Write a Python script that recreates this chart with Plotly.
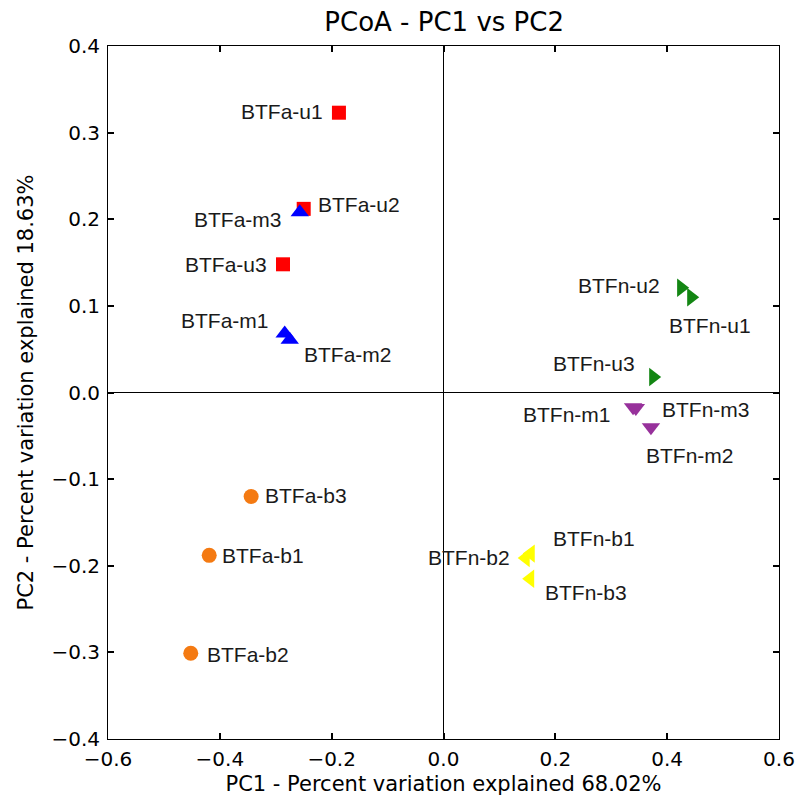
import plotly.graph_objects as go

# ---- data ----
groups = ["BTFa-u", "BTFa-m", "BTFa-b", "BTFn-u", "BTFn-m", "BTFn-b"]
names = {
    "BTFa-u": ["BTFa-u1", "BTFa-u2", "BTFa-u3"],
    "BTFa-m": ["BTFa-m1", "BTFa-m2", "BTFa-m3"],
    "BTFa-b": ["BTFa-b1", "BTFa-b2", "BTFa-b3"],
    "BTFn-u": ["BTFn-u1", "BTFn-u2", "BTFn-u3"],
    "BTFn-m": ["BTFn-m1", "BTFn-m2", "BTFn-m3"],
    "BTFn-b": ["BTFn-b1", "BTFn-b2", "BTFn-b3"],
}
pc1 = {
    "BTFa-u": [-0.187, -0.250, -0.287],
    "BTFa-m": [-0.284, -0.275, -0.257],
    "BTFa-b": [-0.419, -0.452, -0.344],
    "BTFn-u": [0.443, 0.425, 0.375],
    "BTFn-m": [0.339, 0.371, 0.344],
    "BTFn-b": [0.156, 0.147, 0.155],
}
pc2 = {
    "BTFa-u": [0.323, 0.212, 0.148],
    "BTFa-m": [0.068, 0.061, 0.208],
    "BTFa-b": [-0.188, -0.301, -0.120],
    "BTFn-u": [0.110, 0.121, 0.018],
    "BTFn-m": [-0.017, -0.040, -0.018],
    "BTFn-b": [-0.186, -0.191, -0.215],
}

# ---- styles ----
style = {
    "BTFa-u": ("square", "#ff0000", 14),
    "BTFa-m": ("triangle-up", "#0000ff", 16),
    "BTFa-b": ("circle", "#f47a12", 15),
    "BTFn-u": ("triangle-right", "#138613", 16),
    "BTFn-m": ("triangle-down", "#97319b", 16),
    "BTFn-b": ("triangle-left", "#ffff00", 16),
}
# label offsets in pixels: (xanchor, xshift, yshift)
label_pos = {
    "BTFa-u1": ("right", -14, 1), "BTFa-u2": ("left", 12, 4), "BTFa-u3": ("right", -14, 0),
    "BTFa-m1": ("right", -14, 13), "BTFa-m2": ("left", 12, -15), "BTFa-m3": ("right", -16, -7),
    "BTFa-b1": ("left", 11, 0), "BTFa-b2": ("left", 14, -1), "BTFa-b3": ("left", 12, 1),
    "BTFn-u1": ("left", -24, -28), "BTFn-u2": ("right", -19, 2), "BTFn-u3": ("right", -16, 13),
    "BTFn-m1": ("right", -20, -7), "BTFn-m2": ("left", -7, -28), "BTFn-m3": ("left", 24, -1),
    "BTFn-b1": ("left", 20, 15), "BTFn-b2": ("right", -14, 0), "BTFn-b3": ("left", 13, -14),
}

fig = go.Figure()
annotations = []
for g in groups:
    sym, col, sz = style[g]
    fig.add_trace(go.Scatter(
        x=pc1[g], y=pc2[g], mode="markers", name=g,
        marker=dict(symbol=sym, color=col, size=sz, line=dict(width=0)),
        showlegend=False,
    ))
    for n, xv, yv in zip(names[g], pc1[g], pc2[g]):
        xa, xs, ys = label_pos[n]
        annotations.append(dict(
            x=xv, y=yv, text=n, showarrow=False, xanchor=xa, yanchor="middle",
            xshift=xs, yshift=ys,
            font=dict(family="Liberation Sans, Arial", size=21, color="#1a1a1a"),
        ))

axis_common = dict(
    showgrid=False, zeroline=True, zerolinecolor="black", zerolinewidth=1,
    showline=True, linecolor="black", linewidth=1, mirror="ticks",
    ticks="inside", ticklen=6, tickwidth=2, tickcolor="black", automargin=False,
    tickfont=dict(family="DejaVu Sans", size=20, color="black"),
    title_font=dict(family="DejaVu Sans", size=21, color="black"),
)

fig.update_layout(
    width=796, height=799,
    margin=dict(l=108, r=17, t=46, b=60),
    plot_bgcolor="white", paper_bgcolor="white",
    title=dict(text="PCoA - PC1 vs PC2", x=0.558, xanchor="center", y=0.972, yanchor="middle",
               font=dict(family="DejaVu Sans", size=26, color="black")),
    xaxis=dict(range=[-0.6, 0.6], tickvals=[-0.6, -0.4, -0.2, 0.0, 0.2, 0.4, 0.6],
               tickformat=".1f", ticklabelstandoff=2,
               title=dict(text="PC1 - Percent variation explained 68.02%", standoff=6),
               **axis_common),
    yaxis=dict(range=[-0.4, 0.4], tickvals=[-0.4, -0.3, -0.2, -0.1, 0.0, 0.1, 0.2, 0.3, 0.4],
               tickformat=".1f", ticklabelstandoff=3,
               title=dict(text="PC2 - Percent variation explained 18.63%", standoff=12),
               **axis_common),
    annotations=annotations,
)

fig.write_html("out.html")
